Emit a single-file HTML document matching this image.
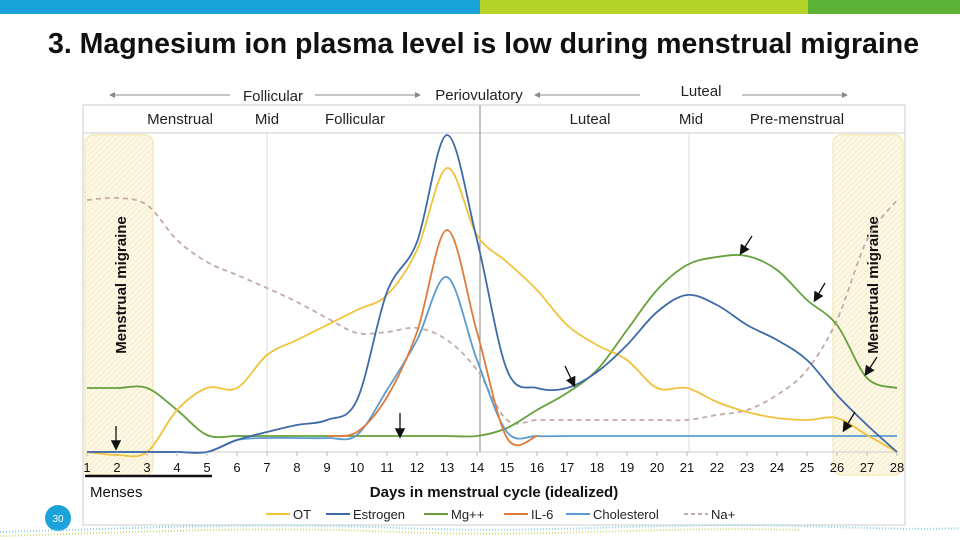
<!DOCTYPE html>
<html><head><meta charset="utf-8">
<style>
body{margin:0;width:960px;height:540px;overflow:hidden;background:#fff;font-family:"Liberation Sans",sans-serif;position:relative}
.bar{position:absolute;top:0;height:14px}
</style></head>
<body>
<div class="bar" style="left:0;width:480px;background:#1aa3d8"></div>
<div class="bar" style="left:480px;width:328px;background:#b5d22b"></div>
<div class="bar" style="left:808px;width:152px;background:#5cb335"></div>
<div style="position:absolute;left:48px;top:28px;font-size:28.5px;font-weight:bold;color:#111">3. Magnesium ion plasma level is low during menstrual migraine</div>
<svg id="chart" width="960" height="540" style="position:absolute;left:0;top:0">
<defs>
<pattern id="hatch" width="4" height="4" patternUnits="userSpaceOnUse" patternTransform="rotate(45)"><rect width="4" height="4" fill="#fdf8e6"/><line x1="0" y1="0" x2="0" y2="4" stroke="#f3e9c2" stroke-width="1.5"/></pattern>
<marker id="ah" markerWidth="8" markerHeight="8" refX="6" refY="4" orient="auto"><path d="M0,0 L8,4 L0,8 z" fill="#111"/></marker>
<marker id="ga" markerWidth="6" markerHeight="6" refX="5" refY="3" orient="auto"><path d="M0,0 L6,3 L0,6 z" fill="#888"/></marker>
</defs>
<rect x="83" y="105" width="822" height="420" fill="none" stroke="#ccc"/>
<line x1="83" y1="133" x2="905" y2="133" stroke="#ccc"/>
<rect x="85" y="135" width="68" height="340" rx="8" fill="url(#hatch)" stroke="#f2e4a6"/>
<rect x="833" y="135" width="70" height="340" rx="8" fill="url(#hatch)" stroke="#f2e4a6"/>
<line x1="267" y1="133" x2="267" y2="452" stroke="#ddd"/>
<line x1="689" y1="133" x2="689" y2="452" stroke="#ddd"/>
<line x1="480" y1="105" x2="480" y2="452" stroke="#888"/>
<line x1="87" y1="452" x2="897" y2="452" stroke="#ccc"/>
<g font-size="15" fill="#222">
<text x="180" y="124" text-anchor="middle">Menstrual</text>
<text x="267" y="124" text-anchor="middle">Mid</text>
<text x="355" y="124" text-anchor="middle">Follicular</text>
<text x="590" y="124" text-anchor="middle">Luteal</text>
<text x="691" y="124" text-anchor="middle">Mid</text>
<text x="797" y="124" text-anchor="middle">Pre-menstrual</text>
<text x="273" y="101" text-anchor="middle">Follicular</text>
<text x="479" y="100" text-anchor="middle">Periovulatory</text>
<text x="701" y="96" text-anchor="middle">Luteal</text>
</g>
<g stroke="#888" stroke-width="1">
<line x1="230" y1="95" x2="110" y2="95" marker-end="url(#ga)"/>
<line x1="315" y1="95" x2="420" y2="95" marker-end="url(#ga)"/>
<line x1="640" y1="95" x2="535" y2="95" marker-end="url(#ga)"/>
<line x1="742" y1="95" x2="847" y2="95" marker-end="url(#ga)"/>
</g>
<text transform="translate(126,285) rotate(-90)" text-anchor="middle" font-size="15" font-weight="bold" fill="#111">Menstrual migraine</text>
<text transform="translate(878,285) rotate(-90)" text-anchor="middle" font-size="15" font-weight="bold" fill="#111">Menstrual migraine</text>
<g id="series"></g>
<g id="ticks" font-size="13" fill="#111"></g>
<line x1="85" y1="476" x2="212" y2="476" stroke="#111" stroke-width="2.5"/>
<text x="90" y="497" font-size="15" fill="#111">Menses</text>
<text x="494" y="497" text-anchor="middle" font-size="15" font-weight="bold" fill="#111">Days in menstrual cycle (idealized)</text>
<g stroke="#111" stroke-width="1.3">
<line x1="116" y1="426" x2="116" y2="448" marker-end="url(#ah)"/>
<line x1="400" y1="413" x2="400" y2="436" marker-end="url(#ah)"/>
<line x1="565" y1="366" x2="574" y2="385" marker-end="url(#ah)"/>
<line x1="752" y1="236" x2="741" y2="253" marker-end="url(#ah)"/>
<line x1="825" y1="283" x2="815" y2="300" marker-end="url(#ah)"/>
<line x1="877" y1="357" x2="866" y2="374" marker-end="url(#ah)"/>
<line x1="855" y1="412" x2="844" y2="430" marker-end="url(#ah)"/>
</g>
<g id="legend" font-size="13" fill="#222"></g>
<circle cx="58" cy="518" r="13" fill="#1aa3d8"/>
<text x="58" y="522" text-anchor="middle" font-size="10" fill="#fff">30</text>
<path d="M0,532 C150,528 250,522 400,528 C550,534 650,522 800,526 C870,528 920,530 960,528" stroke="#8fd0ec" stroke-width="2" stroke-dasharray="1 2" fill="none"/>
<path d="M0,536 C150,532 250,526 400,532 C550,538 650,526 800,530" stroke="#c8df7a" stroke-width="2" stroke-dasharray="1 2" fill="none"/>
</svg>
<script>
const days=[1,2,3,4,5,6,7,8,9,10,11,12,13,14,15,16,17,18,19,20,21,22,23,24,25,26,27,28];
const ot=[0,-3,0,42,64,64,97,112,127,142,157,202,284,217,190,162,127,107,92,64,64,50,40,34,32,34,17,0];
const estrogen=[0,0,0,0,0,12,20,27,32,52,160,210,317,212,82,64,64,80,107,140,157,147,127,112,92,57,27,0];
const mg=[64,64,64,42,17,16,16,16,16,16,16,16,16,16,24,42,59,82,122,162,187,195,196,182,152,127,74,64];
const il6=[null,null,null,null,null,null,null,null,16,20,55,120,222,120,14,16,null,null,null,null,null,null,null,null,null,null,null,null];
const chol=[0,0,0,0,0,12,14,14,14,17,62,112,175,92,20,16,16,16,16,16,16,16,16,16,16,16,16,16];
const na=[252,254,247,212,190,177,164,150,134,119,120,124,112,82,32,32,32,32,32,32,32,37,42,57,82,132,212,252];
const names=["OT","Estrogen","Mg++","IL-6","Cholesterol","Na+"];
const colors=["#f0c33a","#3f6aa8","#65a03c","#e07b3c","#5b9bd0","#c4aaa8"];
const all=[ot,estrogen,mg,il6,chol,na];
const X=d=>87+(d-1)*30, Y=v=>452-v;
const NS="http://www.w3.org/2000/svg";
function pathFor(vals){
  const pts=[];days.forEach((d,i)=>{if(vals[i]!==null)pts.push([X(d),Y(vals[i])]);});
  let s="M"+pts[0][0]+","+pts[0][1];
  for(let i=0;i<pts.length-1;i++){
    const p0=pts[Math.max(0,i-1)],p1=pts[i],p2=pts[i+1],p3=pts[Math.min(pts.length-1,i+2)];
    const c1=[p1[0]+(p2[0]-p0[0])/6,p1[1]+(p2[1]-p0[1])/6],c2=[p2[0]-(p3[0]-p1[0])/6,p2[1]-(p3[1]-p1[1])/6];
    s+=` C${c1[0]},${c1[1]} ${c2[0]},${c2[1]} ${p2[0]},${p2[1]}`;
  }
  return s;
}
const g=document.getElementById("series");
[5,2,4,3,0,1].forEach(k=>{
  const p=document.createElementNS(NS,"path");
  p.setAttribute("d",pathFor(all[k]));p.setAttribute("fill","none");
  p.setAttribute("stroke",colors[k]);p.setAttribute("stroke-width","1.8");
  if(k===5)p.setAttribute("stroke-dasharray","5 4");
  
  
  g.appendChild(p);
});
const t=document.getElementById("ticks");
days.forEach(d=>{
  const l=document.createElementNS(NS,"line");l.setAttribute("x1",X(d));l.setAttribute("x2",X(d));l.setAttribute("y1",452);l.setAttribute("y2",456);l.setAttribute("stroke","#bbb");t.appendChild(l);
  const tx=document.createElementNS(NS,"text");tx.setAttribute("x",X(d));tx.setAttribute("y",472);tx.setAttribute("text-anchor","middle");tx.textContent=d;
  
  
  t.appendChild(tx);
});
const lg=document.getElementById("legend");
const lx=[266,326,424,504,566,684];
names.forEach((n,i)=>{
  const l=document.createElementNS(NS,"line");l.setAttribute("x1",lx[i]);l.setAttribute("x2",lx[i]+24);l.setAttribute("y1",514);l.setAttribute("y2",514);l.setAttribute("stroke",colors[i]);l.setAttribute("stroke-width","2");
  if(i===5)l.setAttribute("stroke-dasharray","4 3");
  
  
  lg.appendChild(l);
  const tx=document.createElementNS(NS,"text");tx.setAttribute("x",lx[i]+27);tx.setAttribute("y",519);tx.textContent=n;
  
  
  lg.appendChild(tx);
});
</script>
</body></html>
